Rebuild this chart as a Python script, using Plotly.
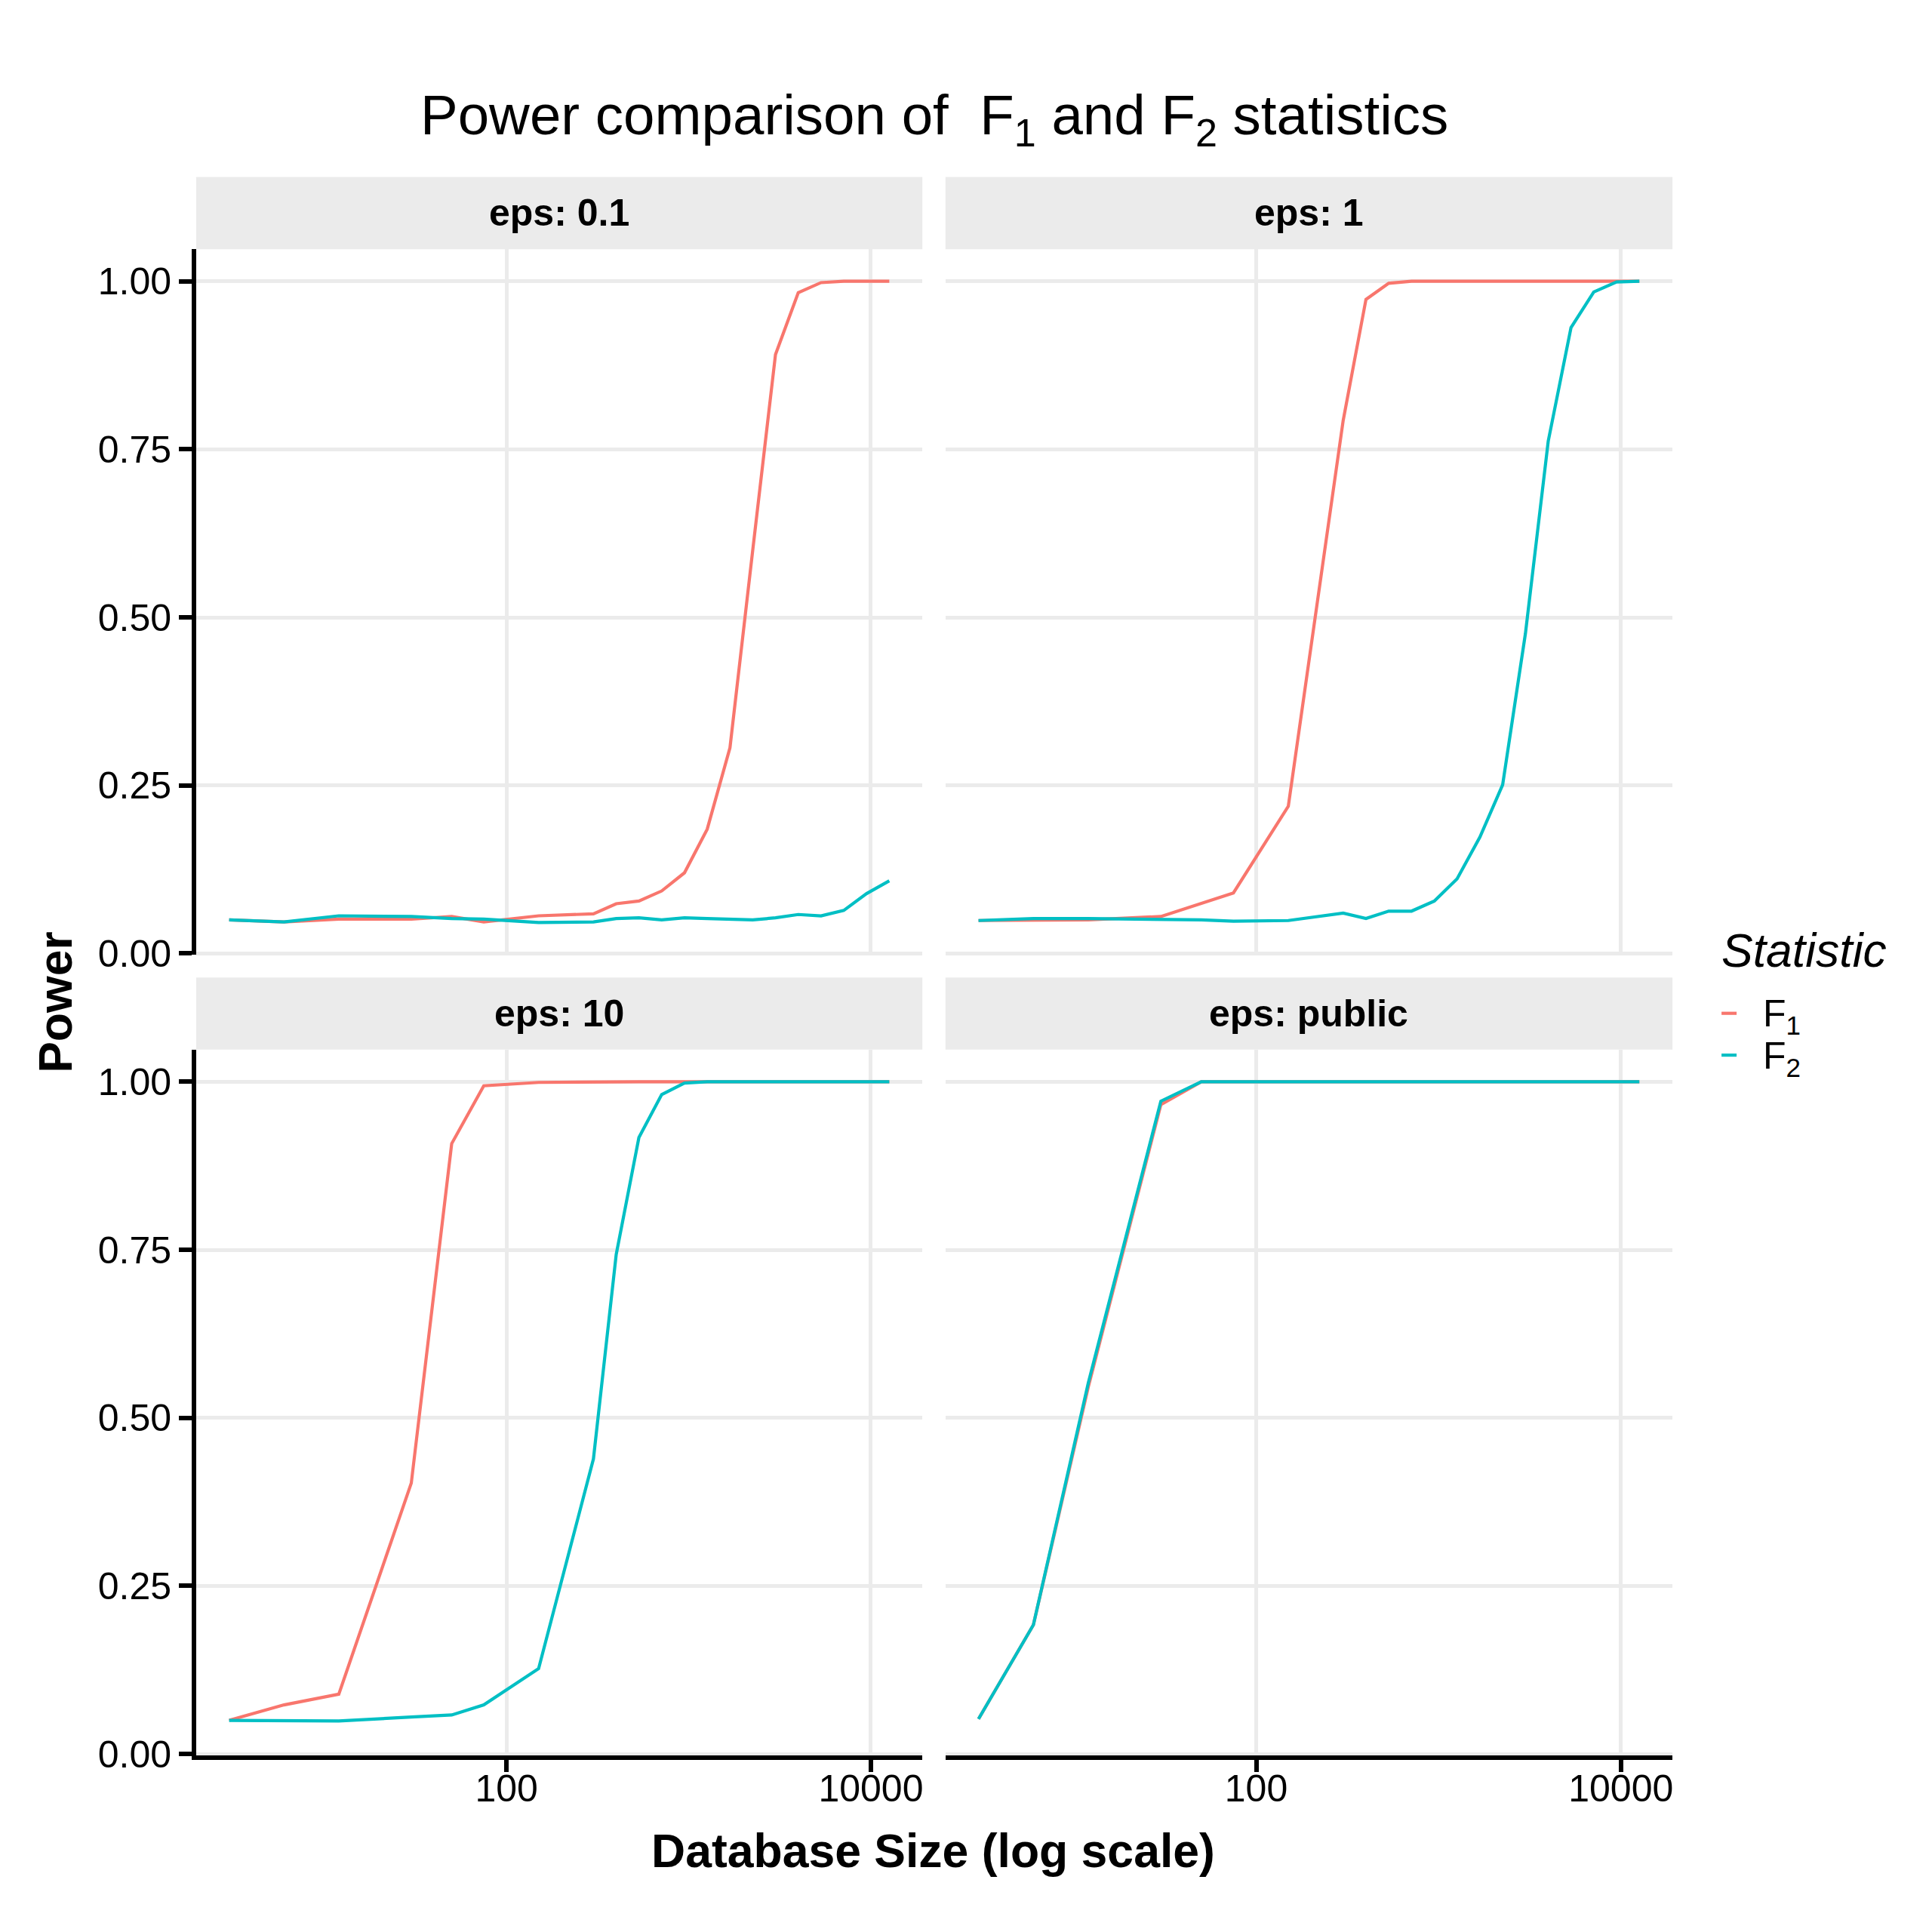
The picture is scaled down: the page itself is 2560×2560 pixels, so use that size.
import plotly.graph_objects as go

# database sizes (x) shared by every panel
sizes = [3, 6, 12, 30, 50, 75, 150, 300, 400, 533, 711, 948, 1264, 1685,
         2247, 2996, 3995, 5327, 7102, 9470, 12627]

panels = ['eps: 0.1', 'eps: 1', 'eps: 10', 'eps: public']

# power of F1 / F2 per panel
f1_eps01 = [0.050, 0.047, 0.051, 0.051, 0.055, 0.047, 0.056, 0.059, 0.074, 0.078, 0.093,
            0.120, 0.185, 0.306, 0.600, 0.891, 0.983, 0.998, 1.000, 1.000, 1.000]
f2_eps01 = [0.050, 0.047, 0.056, 0.055, 0.052, 0.051, 0.046, 0.047, 0.052, 0.053, 0.050,
            0.053, 0.052, 0.051, 0.050, 0.053, 0.058, 0.056, 0.064, 0.089, 0.108]

f1_eps1 = [0.049, 0.049, 0.050, 0.055, 0.074, 0.090, 0.219, 0.793, 0.973, 0.997, 1.000,
           1.000, 1.000, 1.000, 1.000, 1.000, 1.000, 1.000, 1.000, 1.000, 1.000]
f2_eps1 = [0.049, 0.052, 0.052, 0.051, 0.050, 0.048, 0.049, 0.060, 0.052, 0.063, 0.063,
           0.078, 0.111, 0.173, 0.251, 0.476, 0.762, 0.931, 0.984, 0.999, 1.000]

f1_eps10 = [0.050, 0.073, 0.089, 0.403, 0.908, 0.994, 0.999, 1.000, 1.000, 1.000, 1.000,
            1.000, 1.000, 1.000, 1.000, 1.000, 1.000, 1.000, 1.000, 1.000, 1.000]
f2_eps10 = [0.050, 0.050, 0.049, 0.055, 0.058, 0.073, 0.127, 0.439, 0.743, 0.917, 0.981,
            0.998, 1.000, 1.000, 1.000, 1.000, 1.000, 1.000, 1.000, 1.000, 1.000]

f1_public = [0.052, 0.192, 0.546, 0.966, 1.000, 1.000, 1.000, 1.000, 1.000, 1.000, 1.000,
             1.000, 1.000, 1.000, 1.000, 1.000, 1.000, 1.000, 1.000, 1.000, 1.000]
f2_public = [0.052, 0.192, 0.552, 0.971, 1.000, 1.000, 1.000, 1.000, 1.000, 1.000, 1.000,
             1.000, 1.000, 1.000, 1.000, 1.000, 1.000, 1.000, 1.000, 1.000, 1.000]

f1_series = [f1_eps01, f1_eps1, f1_eps10, f1_public]
f2_series = [f2_eps01, f2_eps1, f2_eps10, f2_public]

y_ticks = [0, 0.25, 0.5, 0.75, 1.0]
x_ticks = [100, 10000]
legend_labels = ['F<sub>1</sub>', 'F<sub>2</sub>']

RED = '#F8766D'
TEAL = '#00BFC4'
FONT = 'Liberation Sans'
W = H = 2560

# panel geometry in pixels (left, right, top, bottom)
cols = [(260, 1222.7), (1253.3, 2217)]
rows = [(333.7, 1278.4), (1405.7, 2350.4)]
strip_h = 96.7


def px_x(v):
    return v / W


def px_y(v):
    return 1 - v / H


fig = go.Figure()

for i, name in enumerate(panels):
    r, c = divmod(i, 2)
    n = i + 1
    xa = 'x' if n == 1 else 'x%d' % n
    ya = 'y' if n == 1 else 'y%d' % n
    fig.add_trace(go.Scatter(x=sizes, y=f1_series[i], mode='lines', name=legend_labels[0],
                             line=dict(color=RED, width=4.2), xaxis=xa, yaxis=ya, showlegend=False))
    fig.add_trace(go.Scatter(x=sizes, y=f2_series[i], mode='lines', name=legend_labels[1],
                             line=dict(color=TEAL, width=4.2), xaxis=xa, yaxis=ya, showlegend=False))

    x0, x1 = cols[c]
    t, b = rows[r]
    xkey = 'xaxis' if n == 1 else 'xaxis%d' % n
    ykey = 'yaxis' if n == 1 else 'yaxis%d' % n
    bottom = r == 1
    left = c == 0
    fig.layout[xkey] = dict(
        type='log', range=[0.296, 4.283], domain=[px_x(x0), px_x(x1)],
        anchor=ya, tickvals=x_ticks, ticktext=['100', '10000'],
        showgrid=True, gridcolor='#EBEBEB', gridwidth=4.5, zeroline=False,
        showline=bottom, linecolor='black', linewidth=5.5,
        ticks='outside' if bottom else '', ticklen=17, tickwidth=5.5, tickcolor='black',
        ticklabelstandoff=-21,
        showticklabels=bottom, tickfont=dict(family=FONT, size=50, color='black'))
    fig.layout[ykey] = dict(
        range=[-0.0017, 1.0477], domain=[px_y(b), px_y(t)], anchor=xa,
        tickvals=y_ticks, tickformat='.2f',
        showgrid=True, gridcolor='#EBEBEB', gridwidth=4.5, zeroline=False,
        showline=left, linecolor='black', linewidth=5.5,
        ticks='outside' if left else '', ticklen=17, tickwidth=5.5, tickcolor='black',
        showticklabels=left, tickfont=dict(family=FONT, size=50, color='black'))

    # facet strip
    fig.add_shape(type='rect', xref='paper', yref='paper',
                  x0=px_x(x0), x1=px_x(x1), y0=px_y(t), y1=px_y(t - strip_h),
                  fillcolor='#EBEBEB', line=dict(width=0), layer='below')
    fig.add_annotation(x=px_x((x0 + x1) / 2), y=px_y(t - strip_h / 2), xref='paper', yref='paper',
                       text='<b>%s</b>' % name, showarrow=False, xanchor='center', yanchor='middle',
                       font=dict(family=FONT, size=50, color='black'))

# axis titles and main title
fig.add_annotation(x=px_x(1237), y=px_y(2478), xref='paper', yref='paper',
                   text='<b>Database Size (log scale)</b>', showarrow=False,
                   xanchor='center', yanchor='middle', font=dict(family=FONT, size=62.5, color='black'))
fig.add_annotation(x=px_x(73), y=px_y(1342), xref='paper', yref='paper',
                   text='<b>Power</b>', showarrow=False, textangle=-90,
                   xanchor='center', yanchor='middle', font=dict(family=FONT, size=62.5, color='black'))
fig.add_annotation(x=px_x(1238), y=px_y(160), xref='paper', yref='paper',
                   text='Power comparison of  F<sub>1</sub> and F<sub>2</sub> statistics',
                   showarrow=False, xanchor='center', yanchor='middle',
                   font=dict(family=FONT, size=74.5, color='black'))

# legend (drawn by hand to get ggplot's short key lines)
fig.add_annotation(x=px_x(2280), y=px_y(1272), xref='paper', yref='paper',
                   text='<i>Statistic</i>', showarrow=False, xanchor='left', yanchor='middle',
                   font=dict(family=FONT, size=62.5, color='black'))
for k, (lab, col) in enumerate(zip(legend_labels, [RED, TEAL])):
    yk = 1357 + 56 * k
    fig.add_shape(type='line', xref='paper', yref='paper',
                  x0=px_x(2282), x1=px_x(2302), y0=px_y(yk), y1=px_y(yk),
                  line=dict(color=col, width=4.2))
    fig.add_annotation(x=px_x(2335), y=px_y(yk + 4), xref='paper', yref='paper',
                       text=lab, showarrow=False, xanchor='left', yanchor='middle',
                       font=dict(family=FONT, size=50, color='black'))

fig.update_layout(
    width=W, height=H, margin=dict(l=0, r=0, t=0, b=0),
    paper_bgcolor='white', plot_bgcolor='white', showlegend=False,
)

fig.write_html('out.html', config={'displayModeBar': False},
               post_script="document.body.style.margin='0px';")
